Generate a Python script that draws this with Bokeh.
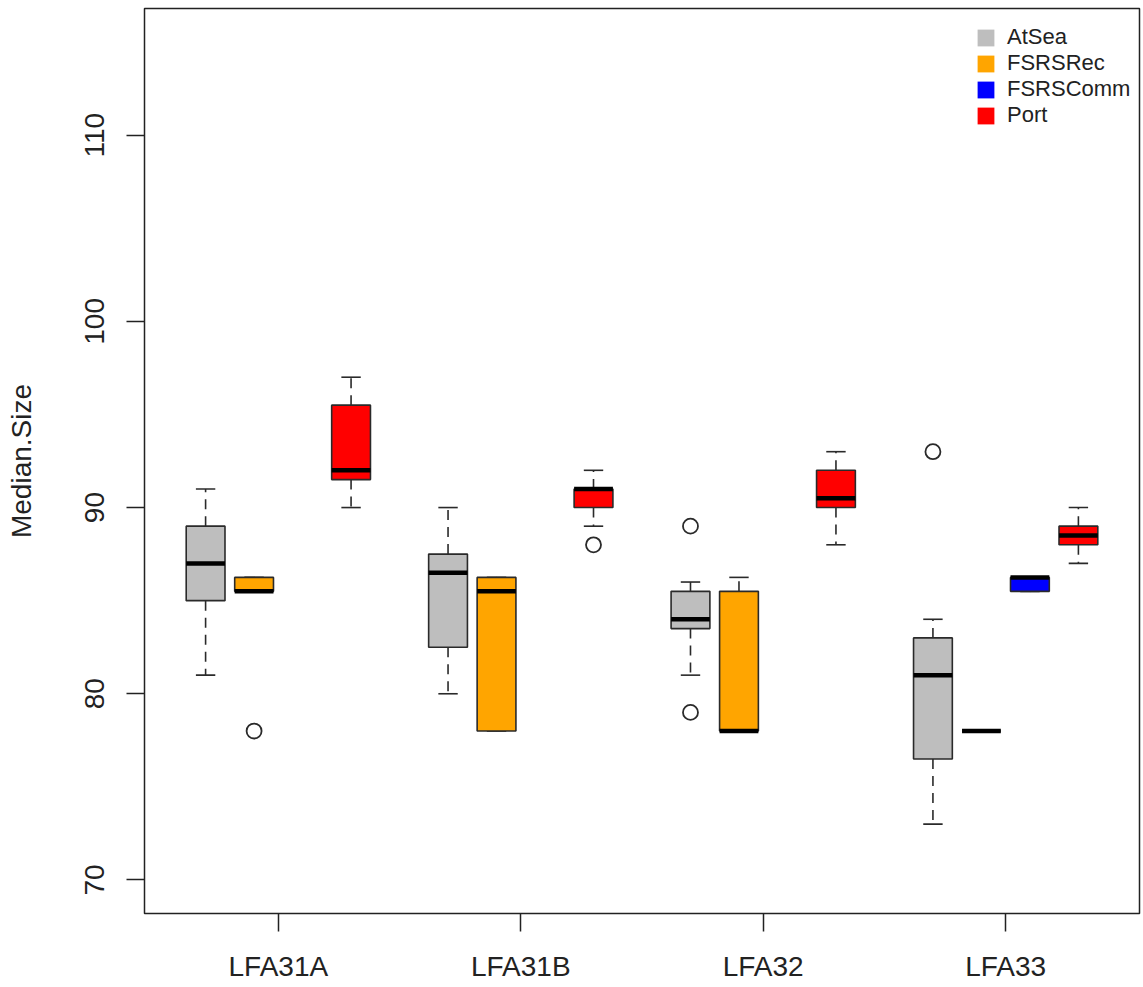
from bokeh.plotting import figure
from bokeh.models import Range1d, FixedTicker, Legend, LegendItem
from bokeh.embed import file_html
from bokeh.resources import INLINE

groups = ["LFA31A", "LFA31B", "LFA32", "LFA33"]
series = ["AtSea", "FSRSRec", "FSRSComm", "Port"]
colors = ["#BEBEBE", "#FFA500", "#0000FF", "#FF0000"]

# five-number summaries (None = no data)
atsea_lower = [81, 80, 81, 73]
atsea_q1 = [85, 82.5, 83.5, 76.5]
atsea_med = [87, 86.5, 84, 81]
atsea_q3 = [89, 87.5, 85.5, 83]
atsea_upper = [91, 90, 86, 84]
atsea_out = [[], [], [89, 79], [93]]

rec_lower = [85.5, 78, 78, 78]
rec_q1 = [85.5, 78, 78, 78]
rec_med = [85.5, 85.5, 78, 78]
rec_q3 = [86.25, 86.25, 85.5, 78]
rec_upper = [86.25, 86.25, 86.25, 78]
rec_out = [[78], [], [], []]

comm_lower = [None, None, None, 85.5]
comm_q1 = [None, None, None, 85.5]
comm_med = [None, None, None, 86.25]
comm_q3 = [None, None, None, 86.25]
comm_upper = [None, None, None, 86.25]
comm_out = [[], [], [], []]

port_lower = [90, 89, 88, 87]
port_q1 = [91.5, 90, 90, 88]
port_med = [92, 91, 90.5, 88.5]
port_q3 = [95.5, 91, 92, 89]
port_upper = [97, 92, 93, 90]
port_out = [[], [88], [], []]

stats = [
    (atsea_lower, atsea_q1, atsea_med, atsea_q3, atsea_upper, atsea_out),
    (rec_lower, rec_q1, rec_med, rec_q3, rec_upper, rec_out),
    (comm_lower, comm_q1, comm_med, comm_q3, comm_upper, comm_out),
    (port_lower, port_q1, port_med, port_q3, port_upper, port_out),
]

FONT = "Liberation Sans"
BOXW = 0.8
CAPW = 0.4
EDGE = "#2a2a2a"

p = figure(width=1143, height=987, output_backend="svg", toolbar_location=None,
           x_range=Range1d(-0.26, 20.26), y_range=Range1d(68.2, 116.8),
           min_border_left=144, min_border_right=4, min_border_top=8, min_border_bottom=74)
p.background_fill_color = "white"
p.border_fill_color = "white"
p.outline_line_color = "#222222"
p.outline_line_width = 1.5
p.grid.visible = False

legend_items = []
for s, (lo, q1, md, q3, hi, outs) in enumerate(stats):
    xs, l_, q1_, md_, q3_, hi_ = [], [], [], [], [], []
    ox, oy = [], []
    for g in range(len(groups)):
        pos = g * 5 + s + 1
        for v in outs[g]:
            ox.append(pos)
            oy.append(v)
        if md[g] is None:
            continue
        xs.append(pos); l_.append(lo[g]); q1_.append(q1[g]); md_.append(md[g])
        q3_.append(q3[g]); hi_.append(hi[g])
    lefts = [x - BOXW / 2 for x in xs]
    rights = [x + BOXW / 2 for x in xs]
    # whiskers
    p.segment(x0=xs, x1=xs, y0=q3_, y1=hi_, line_color=EDGE, line_width=1.6, line_dash="10 7")
    p.segment(x0=xs, x1=xs, y0=q1_, y1=l_, line_color=EDGE, line_width=1.6, line_dash="10 7")
    p.segment(x0=[x - CAPW / 2 for x in xs], x1=[x + CAPW / 2 for x in xs], y0=hi_, y1=hi_,
              line_color=EDGE, line_width=1.6)
    p.segment(x0=[x - CAPW / 2 for x in xs], x1=[x + CAPW / 2 for x in xs], y0=l_, y1=l_,
              line_color=EDGE, line_width=1.6)
    # boxes: fill (also used for legend swatch) then outline
    fill_r = p.quad(left=lefts, right=rights, bottom=q1_, top=q3_,
                    fill_color=colors[s], line_color=None)
    p.quad(left=lefts, right=rights, bottom=q1_, top=q3_,
           fill_color=None, line_color=EDGE, line_width=1.6)
    # medians
    p.segment(x0=lefts, x1=rights, y0=md_, y1=md_, line_color="black", line_width=4.5)
    # outliers
    if ox:
        p.scatter(x=ox, y=oy, marker="circle", size=15, fill_color=None,
                  line_color=EDGE, line_width=1.8)
    legend_items.append(LegendItem(label=series[s], renderers=[fill_r]))

legend = Legend(items=legend_items, location=(831, 785), border_line_color=None,
                background_fill_alpha=0, padding=0, margin=0, spacing=0,
                glyph_width=21, glyph_height=21, label_height=22, label_standoff=11,
                label_text_font=FONT, label_text_font_size="22px", label_text_color="#222222")
p.add_layout(legend)

# axes
p.xaxis.ticker = FixedTicker(ticks=[g * 5 + 2.5 for g in range(len(groups))])
p.xaxis.major_label_overrides = {g * 5 + 2.5: name for g, name in enumerate(groups)}
p.yaxis.ticker = FixedTicker(ticks=[70, 80, 90, 100, 110])
p.yaxis.major_label_orientation = "vertical"
p.yaxis.axis_label = "Median.Size"
for ax in (p.xaxis[0], p.yaxis[0]):
    ax.axis_line_color = None
    ax.major_tick_in = 0
    ax.major_tick_out = 18
    ax.major_tick_line_color = "#222222"
    ax.major_tick_line_width = 1.5
    ax.minor_tick_line_color = None
    ax.major_label_text_font = FONT
    ax.major_label_text_font_size = "28px"
    ax.major_label_text_color = "#222222"
    ax.axis_label_text_font = FONT
    ax.axis_label_text_font_size = "28px"
    ax.axis_label_text_font_style = "normal"
    ax.axis_label_text_color = "#222222"
p.xaxis.major_label_standoff = 19
p.yaxis.major_label_standoff = 22
p.yaxis.axis_label_standoff = 46

open("out.html", "w").write(file_html(p, INLINE))
